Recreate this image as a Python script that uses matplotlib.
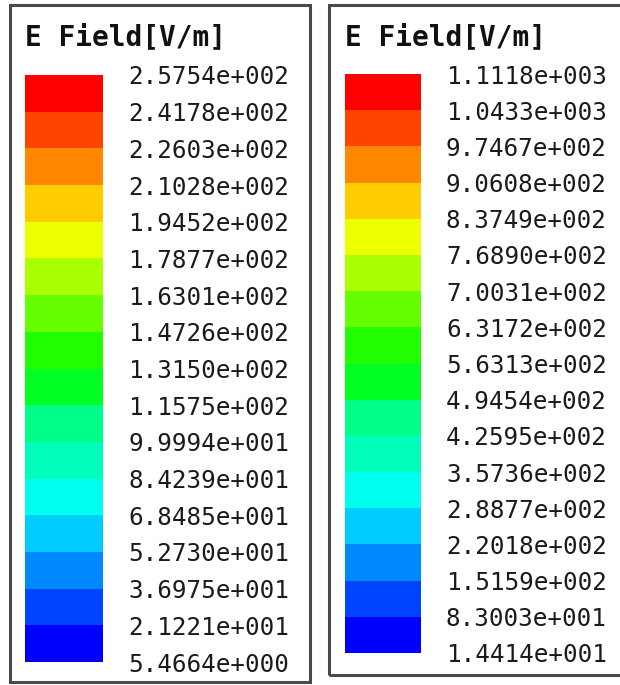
import numpy as np
import matplotlib
matplotlib.use("Agg")
import matplotlib.pyplot as plt
from matplotlib.colors import ListedColormap, BoundaryNorm
from matplotlib.cm import ScalarMappable
from matplotlib.patches import Rectangle

# legend levels (bottom -> top)
left_levels = [5.4664, 21.221, 36.975, 52.730, 68.485, 84.239, 99.994, 115.75,
               131.50, 147.26, 163.01, 178.77, 194.52, 210.28, 226.03, 241.78, 257.54]
right_levels = [14.414, 83.003, 151.59, 220.18, 288.77, 357.36, 425.95, 494.54,
                563.13, 631.72, 700.31, 768.90, 837.49, 906.08, 974.67, 1043.3, 1111.8]
# band colours, bottom -> top
band_colors = ['#0000ff', '#0044ff', '#0088ff', '#00ccff', '#00ffee', '#00ffbb',
               '#00ff88', '#00ff22', '#22ff00', '#66ff00', '#aaff00', '#eeff00',
               '#ffcc00', '#ff8800', '#ff4400', '#ff0000']
title = "E Field[V/m]"


def hfss_fmt(v):
    # 2.5754e+002 style
    m, e = f"{v:.4e}".split('e')
    return f"{m}e{int(e):+04d}"


W, H = 620, 685
fig = plt.figure(figsize=(W / 100, H / 100), dpi=100)
fig.patch.set_facecolor('white')

cmap = ListedColormap(band_colors)

# (box x0, y0, w, h), (bar x0, top, w, bottom), title pos -- in pixels from top-left
panels = [
    (left_levels, (10, 5, 300, 677), (25, 75, 78, 662), (25, 37)),
    (right_levels, (329, 5, 300, 670), (345, 74, 76, 653), (345, 37)),
]

for levels, box, bar, tpos in panels:
    bx, by, bw, bh = box
    fig.patches.append(Rectangle((bx / W, 1 - (by + bh) / H), bw / W, bh / H,
                                 transform=fig.transFigure, fill=False,
                                 edgecolor='#4a4a4a', linewidth=2.2))
    fig.text(tpos[0] / W, 1 - tpos[1] / H, title, family='DejaVu Sans Mono',
             fontweight='bold', fontsize=20, va='center', ha='left', color='#111111')

    x0, top, w, bot = bar
    cax = fig.add_axes([x0 / W, 1 - bot / H, w / W, (bot - top) / H])
    norm = BoundaryNorm(levels, cmap.N)
    cb = fig.colorbar(ScalarMappable(norm=norm, cmap=cmap), cax=cax,
                      ticks=levels, spacing='uniform')
    cb.outline.set_visible(False)
    cb.ax.yaxis.set_ticks_position('right')
    cb.ax.tick_params(length=0, pad=18)
    cb.ax.set_yticklabels([hfss_fmt(v) for v in levels], family='DejaVu Sans Mono',
                          fontsize=17.5, color='#1a1a1a')

fig.savefig('out.png', dpi=100, facecolor='white')
